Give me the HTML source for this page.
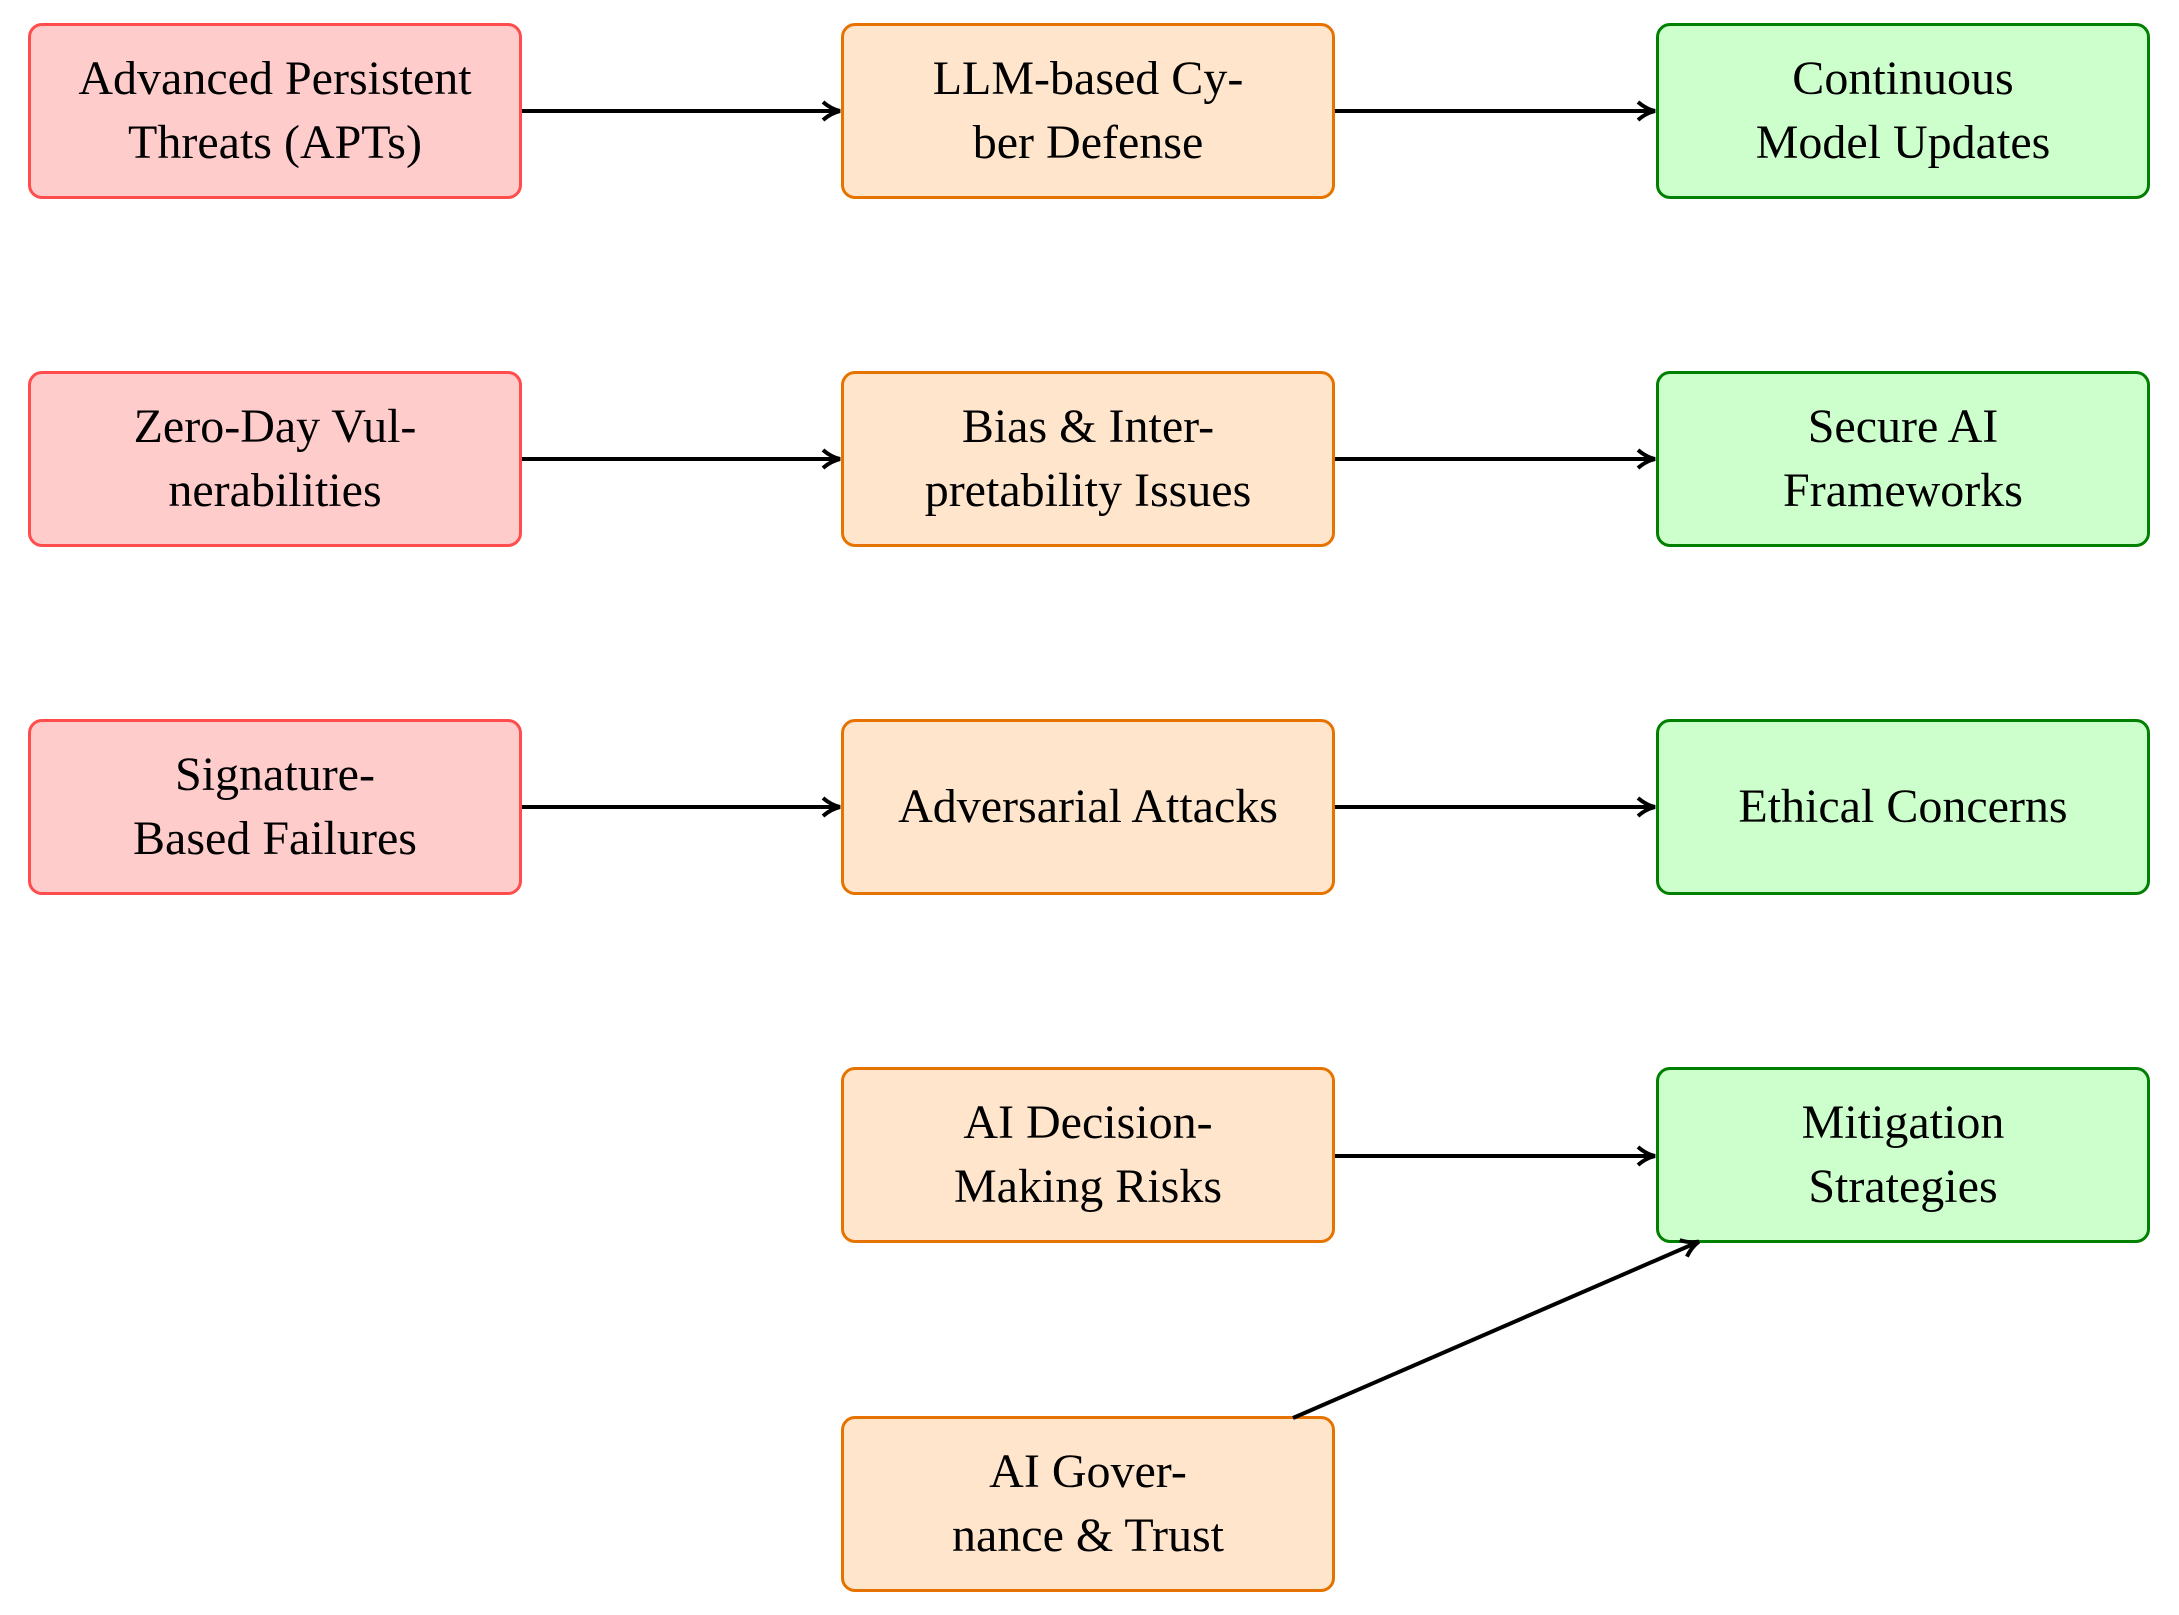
<!DOCTYPE html>
<html><head><meta charset="utf-8"><style>
body{margin:0;width:2179px;height:1615px;background:#fff;position:relative;overflow:hidden;font-family:"Liberation Serif",serif;}
.b{position:absolute;width:494px;height:176px;box-sizing:border-box;border:3px solid;border-radius:14px;display:flex;align-items:center;justify-content:center;text-align:center;font-size:48px;line-height:64px;color:#000;}
.r{background:#ffcccc;border-color:#ff4d4d;}
.o{background:#ffe5cc;border-color:#e67300;}
.g{background:#ccffcc;border-color:#008000;}
svg{position:absolute;left:0;top:0;}
</style></head><body>
<div class="b r" style="left:28px;top:23px">Advanced Persistent<br>Threats (APTs)</div>
<div class="b o" style="left:841px;top:23px">LLM-based Cy-<br>ber Defense</div>
<div class="b g" style="left:1656px;top:23px">Continuous<br>Model Updates</div>
<div class="b r" style="left:28px;top:371px">Zero-Day Vul-<br>nerabilities</div>
<div class="b o" style="left:841px;top:371px">Bias &amp; Inter-<br>pretability Issues</div>
<div class="b g" style="left:1656px;top:371px">Secure AI<br>Frameworks</div>
<div class="b r" style="left:28px;top:719px">Signature-<br>Based Failures</div>
<div class="b o" style="left:841px;top:719px">Adversarial Attacks</div>
<div class="b g" style="left:1656px;top:719px">Ethical Concerns</div>
<div class="b o" style="left:841px;top:1067px">AI Decision-<br>Making Risks</div>
<div class="b g" style="left:1656px;top:1067px">Mitigation<br>Strategies</div>
<div class="b o" style="left:841px;top:1416px">AI Gover-<br>nance &amp; Trust</div>
<svg width="2179" height="1615">
<defs>
<marker id="m" markerWidth="24" markerHeight="24" refX="20" refY="12" orient="auto" markerUnits="userSpaceOnUse"><path d="M4,3 Q12,10 21,12 Q12,14 4,21" fill="none" stroke="#000" stroke-width="4"/></marker></defs>
<g stroke="#000" stroke-width="4" marker-end="url(#m)">
<line x1="522" y1="111" x2="839" y2="111"/>
<line x1="1335" y1="111" x2="1654" y2="111"/>
<line x1="522" y1="459" x2="839" y2="459"/>
<line x1="1335" y1="459" x2="1654" y2="459"/>
<line x1="522" y1="807" x2="839" y2="807"/>
<line x1="1335" y1="807" x2="1654" y2="807"/>
<line x1="1335" y1="1156" x2="1654" y2="1156"/>
<line x1="1293" y1="1418" x2="1698" y2="1242"/>
</g></svg>
</body></html>
